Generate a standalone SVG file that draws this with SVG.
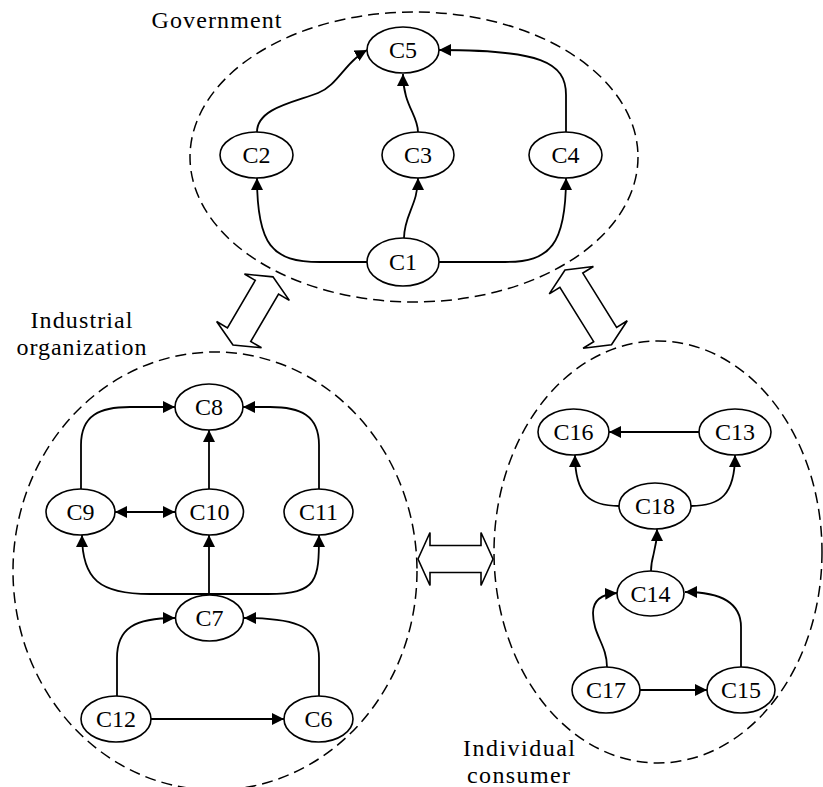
<svg xmlns="http://www.w3.org/2000/svg" width="823" height="787" viewBox="0 0 823 787">
<style>
.grp{fill:none;stroke:#000;stroke-width:1.5;stroke-dasharray:11,6}
.node ellipse{fill:#fff;stroke:#000;stroke-width:1.6}
.node text{font-family:"Liberation Serif","Times New Roman",serif;font-size:24px;text-anchor:middle;fill:#000}
.lbl{font-family:"Liberation Serif","Times New Roman",serif;font-size:24px;text-anchor:middle;fill:#000}
.edges path{fill:none;stroke:#000;stroke-width:1.8;marker-end:url(#ah)}
.big{fill:#fff;stroke:#000;stroke-width:1.6;stroke-linejoin:miter}
</style>
<defs>
<marker id="ah" markerUnits="userSpaceOnUse" markerWidth="12" markerHeight="12" refX="12" refY="6" orient="auto-start-reverse">
<path d="M0,0 L12,6 L0,12 z" fill="#000"/>
</marker>
</defs>
<rect width="823" height="787" fill="#fff"/>

<g id="groups">
<ellipse id="gov-region" class="grp" cx="414" cy="157" rx="224" ry="145"/>
<ellipse id="ind-region" class="grp" cx="215" cy="571" rx="202" ry="219"/>
<ellipse id="con-region" class="grp" cx="658" cy="552" rx="164" ry="211"/>
</g>

<g id="labels">
<text class="lbl" x="216.5" y="28" textLength="130" lengthAdjust="spacing">Government</text>
<text class="lbl" x="81.5" y="328" textLength="102" lengthAdjust="spacing">Industrial</text>
<text class="lbl" x="81.5" y="355" textLength="130" lengthAdjust="spacing">organization</text>
<text class="lbl" x="519" y="756" textLength="112" lengthAdjust="spacing">Individual</text>
<text class="lbl" x="518.5" y="783" textLength="103" lengthAdjust="spacing">consumer</text>
</g>

<g id="interactions">
<polygon id="arrow-gov-ind" class="big" transform="translate(233,345) rotate(-59.6)" points="0,0 12,-26 12,-13.5 67,-13.5 67,-26 79,0 67,26 67,13.5 12,13.5 12,26"/>
<polygon id="arrow-gov-con" class="big" transform="translate(565,270) rotate(58.1)" points="0,0 12,-26 12,-13.5 76,-13.5 76,-26 88,0 76,26 76,13.5 12,13.5 12,26"/>
<polygon id="arrow-ind-con" class="big" transform="translate(418,559)" points="0,0 12,-26.5 12,-13.5 63,-13.5 63,-26.5 75,0 63,26.5 63,13.5 12,13.5 12,26.5"/>
</g>

<g id="connectors" class="edges">
<path d="M257,132 C257,108 295,102 318,93 C338,85 345,62 367,50"/>
<path d="M418,132 C418,115 403,105 403,74"/>
<path d="M566,132 L566,95 C566,62 540,50 439,50"/>
<path d="M367,262 L320,262 C272,262 257,245 257,178"/>
<path d="M404,238 C404,215 418,205 418,178"/>
<path d="M439,262 L505,262 C550,262 566,245 566,178"/>

<path d="M81,489 L81,445 C81,415 100,407 130,407 L175,407"/>
<path d="M319,489 L319,445 C319,415 300,407 270,407 L243,407"/>
<path d="M209,489 L209,430"/>
<path d="M115,512 L175,512" style="marker-start:url(#ah)"/>
<path d="M209,594 L150,594 C100,594 82,580 82,535"/>
<path d="M209,594 L268,594 C318,594 319,580 319,535"/>
<path d="M209,594 L209,535"/>
<path d="M117,696 L117,658 C117,628 135,618 175,618"/>
<path d="M319,696 L319,658 C319,628 300,618 244,618"/>
<path d="M151,719 L284,719"/>

<path d="M699,432 L609,432"/>
<path d="M619,506 C590,506 575,495 575,455"/>
<path d="M691,506 C720,506 735,495 735,455"/>
<path d="M651,571 C651,555 657,552 657,529"/>
<path d="M607,667 C607,645 593,635 593,613 C593,600 603,594 617,593"/>
<path d="M741,667 L741,627 C741,600 715,592 685,592"/>
<path d="M640,690 L707,690"/>
</g>

<g id="C5" class="node"><ellipse cx="403" cy="50" rx="36" ry="23"/><text x="403" y="58">C5</text></g>
<g id="C2" class="node"><ellipse cx="256.5" cy="155" rx="36.5" ry="23"/><text x="256.5" y="163">C2</text></g>
<g id="C3" class="node"><ellipse cx="418" cy="155" rx="36" ry="23"/><text x="418" y="163">C3</text></g>
<g id="C4" class="node"><ellipse cx="565.5" cy="155" rx="36.5" ry="23"/><text x="565.5" y="163">C4</text></g>
<g id="C1" class="node"><ellipse cx="403" cy="262" rx="36" ry="24"/><text x="403" y="270">C1</text></g>

<g id="C8" class="node"><ellipse cx="209" cy="407" rx="34" ry="23"/><text x="209" y="415">C8</text></g>
<g id="C9" class="node"><ellipse cx="80.5" cy="512" rx="34.5" ry="23"/><text x="80.5" y="520">C9</text></g>
<g id="C10" class="node"><ellipse cx="209.5" cy="512" rx="34" ry="23"/><text x="209.5" y="520">C10</text></g>
<g id="C11" class="node"><ellipse cx="318.5" cy="512" rx="34.5" ry="23"/><text x="318.5" y="520">C11</text></g>
<g id="C7" class="node"><ellipse cx="209.5" cy="618" rx="34" ry="23"/><text x="209.5" y="626">C7</text></g>
<g id="C12" class="node"><ellipse cx="116" cy="719" rx="35" ry="23"/><text x="116" y="727">C12</text></g>
<g id="C6" class="node"><ellipse cx="318.5" cy="719" rx="34.5" ry="23"/><text x="318.5" y="727">C6</text></g>

<g id="C16" class="node"><ellipse cx="573.5" cy="432" rx="35.5" ry="23"/><text x="573.5" y="440">C16</text></g>
<g id="C13" class="node"><ellipse cx="735" cy="432" rx="36" ry="23"/><text x="735" y="440">C13</text></g>
<g id="C18" class="node"><ellipse cx="655" cy="506" rx="36" ry="23"/><text x="655" y="514">C18</text></g>
<g id="C14" class="node"><ellipse cx="650.5" cy="593.5" rx="33.5" ry="22.5"/><text x="650.5" y="601.5">C14</text></g>
<g id="C17" class="node"><ellipse cx="606" cy="690" rx="34" ry="23"/><text x="606" y="698">C17</text></g>
<g id="C15" class="node"><ellipse cx="741" cy="690" rx="34" ry="23"/><text x="741" y="698">C15</text></g>
</svg>
